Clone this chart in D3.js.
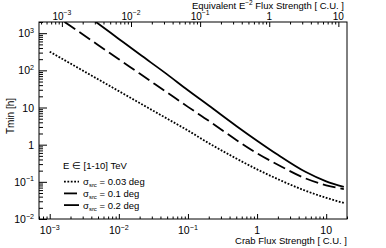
<!DOCTYPE html>
<html><head><meta charset="utf-8">
<script src="https://cdn.jsdelivr.net/npm/d3@7/dist/d3.min.js"></script>
<style>
body{margin:0;background:#fff}
svg{display:block}
text{font-family:"Liberation Sans",Arial,Helvetica,sans-serif;fill:#000}
</style>
</head><body>
<svg id="chart" width="386" height="248"></svg>
<script>
// ---- data ----
const flux      = [0.001, 0.002, 0.005, 0.01, 0.02, 0.05, 0.1, 0.2, 0.5, 1, 2, 5, 10, 18];
const tmin_003  = [318, 152, 57.6, 27.6, 13.2, 5.01, 2.40, 1.10, 0.425, 0.217, 0.118, 0.0578, 0.0372, 0.0270];
const tmin_01   = [3790, 1560, 483, 199, 81.7, 25.3, 10.4, 4.40, 1.34, 0.586, 0.288, 0.124, 0.0807, 0.064];
const tmin_02   = [16600, 6300, 1820, 700, 270, 78, 29, 11.3, 3.2, 1.28, 0.533, 0.186, 0.103, 0.073];
const seriesLabels = ["0.03 deg", "0.1 deg", "0.2 deg"];
const seriesDash   = ["1.8,1.6", "13,5", null];
const xTickExp  = [-3, -2, -1, 0, 1];
const yTickExp  = [-2, -1, 0, 1, 2, 3];
const topTickExp = [-3, -2, -1, 0, 1];
const xDomain = [7e-4, 20];
const yDomain = [0.01, 2000];
const equivFactor = 1.5; // Crab flux / equivalent E^-2 flux
const xTitle = "Crab Flux Strength [ C.U. ]";
const topTitle = ["Equivalent E", "-2", " Flux Strength [ C.U. ]"];
const yTitle = "Tmin [h]";
const legendHeader = "E \u2208 [1-10] TeV";

// ---- layout ----
const svg = d3.select("#chart");
const L = 39, T = 22, W = 308, H = 197;
const x = d3.scaleLog().domain(xDomain).range([L, L + W]);
const xTop = d3.scaleLog().domain(xDomain.map(v => v / equivFactor)).range([L, L + W]);
const y = d3.scaleLog().domain(yDomain).range([T + H, T]);

function minorTicks(scale) {
  const [a, b] = scale.domain();
  const out = [];
  for (let e = Math.floor(Math.log10(a)); e <= Math.ceil(Math.log10(b)); e++) {
    for (let m = 2; m <= 9; m++) {
      const v = m * Math.pow(10, e);
      if (v >= a * 0.9999 && v <= b * 1.0001) out.push(v);
    }
  }
  return out;
}
function styleAxis(g) {
  g.select(".domain").remove();
  g.selectAll("line").attr("stroke", "#000").attr("stroke-width", 1);
}
const majorX = xTickExp.map(e => Math.pow(10, e));
const majorTop = topTickExp.map(e => Math.pow(10, e));
const majorY = yTickExp.map(e => Math.pow(10, e));

// bottom axis ticks (pointing inward)
svg.append("g").attr("transform", `translate(0,${T + H})`)
  .call(d3.axisBottom(x).tickValues(majorX).tickSize(-5).tickFormat(""))
  .call(styleAxis);
svg.append("g").attr("transform", `translate(0,${T + H})`)
  .call(d3.axisBottom(x).tickValues(minorTicks(x)).tickSize(-2.5).tickFormat(""))
  .call(styleAxis);
// top axis ticks
svg.append("g").attr("transform", `translate(0,${T})`)
  .call(d3.axisTop(xTop).tickValues(majorTop).tickSize(-5).tickFormat(""))
  .call(styleAxis);
svg.append("g").attr("transform", `translate(0,${T})`)
  .call(d3.axisTop(xTop).tickValues(minorTicks(xTop)).tickSize(-2.5).tickFormat(""))
  .call(styleAxis);
// left axis ticks
svg.append("g").attr("transform", `translate(${L},0)`)
  .call(d3.axisLeft(y).tickValues(majorY).tickSize(-8).tickFormat(""))
  .call(styleAxis);
svg.append("g").attr("transform", `translate(${L},0)`)
  .call(d3.axisLeft(y).tickValues(minorTicks(y)).tickSize(-4).tickFormat(""))
  .call(styleAxis);

// tick labels
function powLabel(sel, e, fs) {
  if (e === 0) { sel.append("tspan").text("1"); return; }
  if (e === 1) { sel.append("tspan").text("10"); return; }
  sel.append("tspan").text("10");
  sel.append("tspan").attr("dy", -4.5).attr("font-size", fs * 0.68).text(e < 0 ? "\u2212" + (-e) : String(e));
}
const FS = 10.5;
xTickExp.forEach(e => {
  const t = svg.append("text").attr("x", x(Math.pow(10, e))).attr("y", 234)
    .attr("text-anchor", "middle").attr("font-size", FS);
  powLabel(t, e, FS);
});
topTickExp.forEach(e => {
  const t = svg.append("text").attr("x", xTop(Math.pow(10, e))).attr("y", 19.5)
    .attr("text-anchor", "middle").attr("font-size", 10);
  powLabel(t, e, 10);
});
yTickExp.forEach(e => {
  const t = svg.append("text").attr("x", 34).attr("y", y(Math.pow(10, e)) + 4)
    .attr("text-anchor", "end").attr("font-size", FS);
  powLabel(t, e, FS);
});

// titles
svg.append("text").attr("x", L + W).attr("y", 243.5).attr("text-anchor", "end")
  .attr("font-size", 9.5).text(xTitle);
const tt = svg.append("text").attr("x", L + W - 3).attr("y", 8.5).attr("text-anchor", "end").attr("font-size", 9.5);
tt.append("tspan").text(topTitle[0]);
tt.append("tspan").attr("dy", -3.5).attr("font-size", 6.5).text(topTitle[1].replace("-", "\u2212"));
tt.append("tspan").attr("dy", 3.5).text(topTitle[2]);
svg.append("text").attr("transform", "translate(14,116) rotate(-90)")
  .attr("text-anchor", "middle").attr("font-size", 10).text(yTitle);

// curves
svg.append("clipPath").attr("id", "clip").append("rect")
  .attr("x", L).attr("y", T).attr("width", W).attr("height", H);
const series = [tmin_003, tmin_01, tmin_02];
const line = d3.line().x(d => x(d[0])).y(d => y(d[1])).curve(d3.curveMonotoneX);
const plot = svg.append("g").attr("clip-path", "url(#clip)");
series.forEach((vals, i) => {
  plot.append("path").datum(flux.map((f, j) => [f, vals[j]]))
    .attr("fill", "none").attr("stroke", "#000")
    .attr("stroke-width", 1.8)
    .attr("stroke-dasharray", seriesDash[i])
    .attr("d", line);
});

// frame
svg.append("rect").attr("x", L).attr("y", T).attr("width", W).attr("height", H)
  .attr("fill", "none").attr("stroke", "#000").attr("stroke-width", 1);

// legend
const LF = 9.5;
svg.append("text").attr("x", 63).attr("y", 169).attr("font-size", LF).text(legendHeader);
seriesLabels.forEach((lab, i) => {
  const yy = 181.7 + i * 11.7;
  svg.append("line").attr("x1", 64).attr("x2", 79).attr("y1", yy).attr("y2", yy)
    .attr("stroke", "#000").attr("stroke-width", 1.8)
    .attr("stroke-dasharray", seriesDash[i]);
  const t = svg.append("text").attr("x", 83).attr("y", yy + 3.5).attr("font-size", LF);
  t.append("tspan").text("\u03c3");
  t.append("tspan").attr("dy", 2).attr("font-size", 6).text("src");
  t.append("tspan").attr("dy", -2).text(" = " + lab);
});
</script>
</body></html>
